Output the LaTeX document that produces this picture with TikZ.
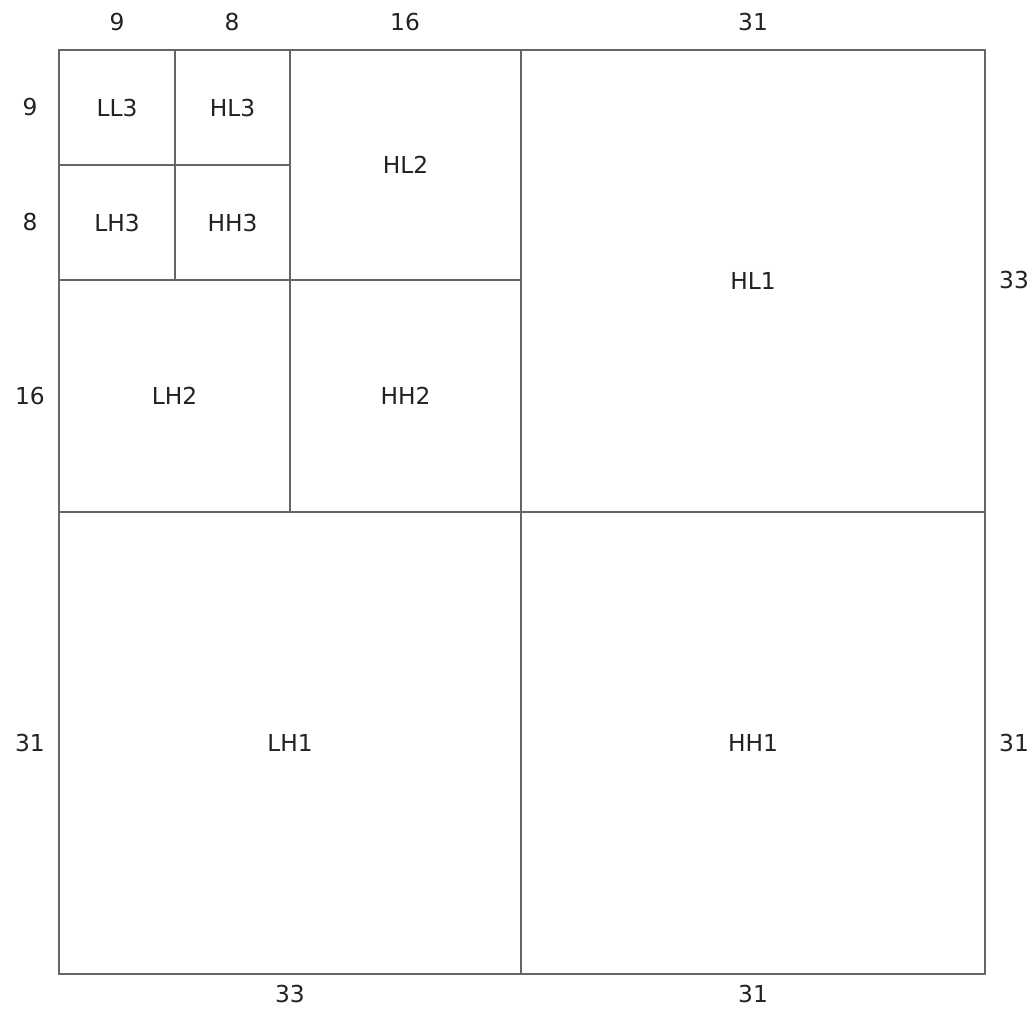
\documentclass[tikz,border=0pt]{standalone}
\usepackage{fontspec}
\setmainfont{DejaVu Sans}
\usetikzlibrary{positioning}
\definecolor{gridgray}{HTML}{666666}
\definecolor{textgray}{HTML}{222222}
\tikzset{
  cellline/.style={draw=gridgray, line width=1.2pt},
  celltext/.style={text=textgray, inner sep=0pt, font=\fontsize{17.5}{20}\selectfont},
  dimtext/.style={text=textgray, inner sep=0pt, font=\fontsize{17.5}{20}\selectfont}
}

\begin{document}
\begin{tikzpicture}[x=0.75pt, y=-0.75pt]
\useasboundingbox (0,0) rectangle (1034,1008);
% subbands: name / left / top / right / bottom
\foreach \name/\xa/\ya/\xb/\yb in {LL3/59/50/175/165, HL3/175/50/290/165,
    LH3/59/165/175/280, HH3/175/165/290/280, HL2/290/50/521/280,
    LH2/59/280/290/512, HH2/290/280/521/512, HL1/521/50/985/512,
    LH1/59/512/521/974, HH1/521/512/985/974} {
  \draw[cellline] (\xa,\ya) rectangle (\xb,\yb);
  \node[celltext] (\name) at ({(\xa+\xb)/2},{(\ya+\yb)/2}) {\name};
}
% sizes along the top and bottom
\node[dimtext] (top9) at (117,22) {9};
\node[dimtext] (top8) at (232,22) {8};
\node[dimtext] (top16) at (405,22) {16};
\node[dimtext] (top31) at (753,22) {31};
\node[dimtext] (bot33) at (290,994) {33};
\node[dimtext] (bot31) at (753,994) {31};
% sizes along the left and right
\node[dimtext] (left9) at (30,107) {9};
\node[dimtext] (left8) at (30,222) {8};
\node[dimtext] (left16) at (30,396) {16};
\node[dimtext] (left31) at (30,743) {31};
\node[dimtext] (right33) at (1014,280) {33};
\node[dimtext] (right31) at (1014,743) {31};
\end{tikzpicture}
\end{document}
